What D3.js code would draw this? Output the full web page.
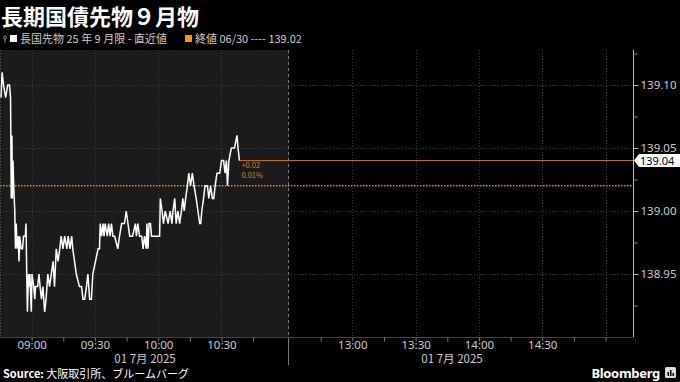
<!DOCTYPE html>
<html><head><meta charset="utf-8">
<script src="https://cdn.jsdelivr.net/npm/d3@7"></script>
<style>
body{margin:0;background:#000;}
svg{display:block;font-family:"Noto Sans CJK JP","Noto Sans",sans-serif;}
</style></head><body>
<svg id="c" width="680" height="382"></svg>
<script>
// ---- data ----
const times = ["08:45:30","08:46:00","08:46:40","08:47:40","08:48:40","08:49:30","08:50:00","08:50:20","08:50:40","08:50:50",
"08:51:10","08:51:30","08:52:00","08:52:20","08:52:40","08:53:10","08:53:40","08:54:00","08:54:20","08:55:00",
"08:55:40","08:56:10","08:57:00","08:57:20","08:57:40","08:58:00","08:58:30","08:58:50","08:59:10","08:59:50",
"09:00:10","09:01:00","09:01:30","09:01:50","09:02:50","09:03:30","09:04:00","09:04:40","09:05:20","09:06:10",
"09:06:50","09:07:40","09:08:30","09:09:20","09:10:10","09:10:50","09:11:40","09:12:30","09:13:20","09:14:00",
"09:14:50","09:15:40","09:16:40","09:17:20","09:18:10","09:19:00","09:19:30","09:20:20","09:21:10","09:22:40",
"09:23:40","09:24:20","09:25:10","09:26:00","09:26:40","09:27:30","09:28:20","09:29:00","09:31:30","09:32:10",
"09:32:30","09:33:10","09:33:50","09:34:20","09:34:50","09:35:50","09:36:30","09:37:10","09:37:50","09:38:30",
"09:39:20","09:40:50","09:41:40","09:42:40","09:44:00","09:44:50","09:45:40","09:46:30","09:47:50","09:49:10",
"09:49:40","09:50:20","09:51:10","09:52:10","09:52:50","09:53:30","09:54:20","09:54:40","09:55:10","09:55:40",
"09:56:20","09:56:50","10:00:40","10:01:00","10:01:50","10:02:30","10:03:20","10:04:40","10:05:40","10:06:30",
"10:07:00","10:07:50","10:08:30","10:09:20","10:10:10","10:11:00","10:11:40","10:12:20","10:13:00","10:13:50",
"10:14:30","10:15:20","10:16:10","10:17:00","10:18:00","10:18:50","10:19:40","10:20:10","10:20:40","10:21:30",
"10:22:10","10:23:20","10:24:00","10:24:50","10:25:40","10:26:20","10:27:00","10:27:50","10:29:10","10:30:00",
"10:31:00","10:31:40","10:32:20","10:32:50","10:33:30","10:34:40","10:36:10","10:37:20","10:37:50","10:38:30"];
const prices = [139.09,139.11,139.10,139.09,139.10,139.10,139.09,139.01,139.06,139.01,
139.04,139.02,139.00,138.97,138.99,138.97,138.98,138.96,138.98,138.97,
138.97,138.98,138.98,138.99,138.95,138.92,138.95,138.94,138.95,138.92,
138.95,138.94,138.93,138.94,138.94,138.95,138.94,138.93,138.94,138.92,
138.93,138.95,138.94,138.95,138.96,138.94,138.97,138.96,138.97,138.98,
138.97,138.98,138.97,138.98,138.97,138.98,138.97,138.96,138.95,138.94,
138.94,138.93,138.93,138.94,138.95,138.93,138.93,138.95,138.97,138.97,
138.99,138.98,138.99,138.98,138.99,138.98,138.99,138.98,138.99,138.98,
138.98,138.97,138.98,138.99,138.99,139.00,138.99,138.98,138.98,138.99,
138.98,138.99,138.98,138.98,138.97,138.98,138.97,138.99,138.97,138.99,
138.99,138.98,138.98,139.01,139.00,138.99,139.00,138.99,139.00,138.99,
139.00,139.01,138.99,139.00,138.99,139.00,139.01,139.00,139.01,139.02,
139.03,139.02,139.03,139.02,139.01,139.00,138.99,138.99,139.00,139.01,
139.02,139.02,139.01,139.02,139.01,139.01,139.02,139.03,139.03,139.04,
139.04,139.03,139.04,139.02,139.04,139.05,139.05,139.06,139.05,139.04];
const prevClose = 139.02;
const lastPrice = 139.04;
const changeText = "+0.02";
const changePct = "0.01%";
const yTicks = [138.95, 139.00, 139.05, 139.10];
const yMinorTicks = [138.925, 138.975, 139.025, 139.075, 139.125];
const xLabelTimes = ["09:00","09:30","10:00","10:30","13:00","13:30","14:00","14:30"];
const xGridTimes = ["09:00","09:30","10:00","10:30","13:00","13:30","14:00","14:30","15:00"];
const xTickTimes = ["09:00","09:15","09:30","09:45","10:00","10:15","10:30","10:45",
                    "12:45","13:00","13:15","13:30","13:45","14:00","14:15","14:30","14:45","15:00"];
const sessionBounds = ["08:45","11:02","12:30","15:13"];
const dateLabel = "01 7月 2025";
const title = "長期国債先物９月物";
const legendSeries = "長国先物 25 年 9 月限 - 直近値";
const legendClose = "終値 06/30 ---- 139.02";

// ---- setup ----
const svg = d3.select("#c");
const W = 680, H = 382;
const pTop = 50, pBot = 337, pLeft = 0, pRight = 633, sep = 289;
const pT = s => d3.timeParse(s.length > 5 ? "%H:%M:%S" : "%H:%M")(s);

const x = d3.scaleTime()
  .domain(sessionBounds.map(pT))
  .range([pLeft, sep, sep, pRight]);
const y = d3.scaleLinear().domain([138.90, 138.90 + (pBot - pTop) / 1260]).range([pBot, pTop]);

svg.append("rect").attr("width", W).attr("height", H).attr("fill", "#000");
svg.append("rect").attr("x", pLeft).attr("y", pTop).attr("width", sep - pLeft).attr("height", pBot - pTop).attr("fill", "#1b1b1b");

svg.append("line").attr("x1", 0.5).attr("x2", 0.5).attr("y1", pTop).attr("y2", pBot)
  .attr("stroke", "#555").attr("stroke-dasharray", "1,2");

const g = svg.append("g");
g.selectAll("line.vg").data(xGridTimes).join("line")
  .attr("x1", d => Math.round(x(pT(d))) + 0.5).attr("x2", d => Math.round(x(pT(d))) + 0.5)
  .attr("y1", pTop).attr("y2", pBot)
  .attr("stroke", "#3d3d3d").attr("stroke-dasharray", "1,2");
g.selectAll("line.hg").data(yTicks).join("line")
  .attr("x1", pLeft).attr("x2", pRight)
  .attr("y1", d => Math.round(y(d)) + 0.5).attr("y2", d => Math.round(y(d)) + 0.5)
  .attr("stroke", "#3d3d3d").attr("stroke-dasharray", "1,2");

svg.append("line").attr("x1", sep - 0.5).attr("x2", sep - 0.5).attr("y1", pTop).attr("y2", pBot)
  .attr("stroke", "#777").attr("stroke-dasharray", "3,3");
svg.append("line").attr("x1", sep - 0.5).attr("x2", sep - 0.5).attr("y1", pBot).attr("y2", 365)
  .attr("stroke", "#777");

svg.append("line").attr("x1", pLeft).attr("x2", pRight).attr("y1", pBot + 0.5).attr("y2", pBot + 0.5)
  .attr("stroke", "#444");

svg.append("line").attr("x1", pLeft).attr("x2", pRight)
  .attr("y1", y(prevClose)).attr("y2", y(prevClose))
  .attr("stroke", "#e08a1e").attr("stroke-width", 1.5).attr("stroke-dasharray", "1.5,1.5");

const data = times.map((t, i) => ({t: pT(t), v: prices[i]}));
const lastT = data[data.length - 1].t;
svg.append("line").attr("x1", x(lastT)).attr("x2", pRight)
  .attr("y1", y(lastPrice)).attr("y2", y(lastPrice))
  .attr("stroke", "#c67a32").attr("stroke-width", 1);

svg.append("path").datum(data)
  .attr("d", d3.line().x(d => x(d.t)).y(d => y(d.v)))
  .attr("fill", "none").attr("stroke", "#fff").attr("stroke-width", 1.5);

svg.append("text").attr("x", x(lastT) + 2).attr("y", y(lastPrice) + 7.5)
  .attr("fill", "#c98a3c").attr("font-size", 7.5).text(changeText);
svg.append("text").attr("x", x(lastT) + 2).attr("y", y(lastPrice) + 17.5)
  .attr("fill", "#c98a3c").attr("font-size", 7.5).text(changePct);

const yAxis = svg.append("g").attr("transform", `translate(${pRight + 0.5},0)`)
  .call(d3.axisRight(y).tickValues(yTicks).tickSize(5).tickPadding(2).tickFormat(d3.format(".2f")));
yAxis.select(".domain").attr("stroke", "#bbb").attr("d", `M0,${pTop}V${pBot}`);
yAxis.selectAll(".tick line").attr("stroke", "#bbb");
yAxis.selectAll(".tick text").attr("fill", "#ccc").attr("font-size", 11.5)
  .attr("font-family", "'Noto Sans','Open Sans',sans-serif");
const yMinor = svg.append("g").attr("transform", `translate(${pRight + 0.5},0)`)
  .call(d3.axisRight(y).tickValues(yMinorTicks).tickSize(4).tickFormat(""));
yMinor.select(".domain").remove();
yMinor.selectAll(".tick line").attr("stroke", "#888");

const ly = y(lastPrice);
svg.append("path")
  .attr("d", `M${pRight + 1},${ly} L${pRight + 6},${ly - 6.5} H680 V${ly + 6.5} H${pRight + 6} Z`)
  .attr("fill", "#fff");
svg.append("text").attr("x", pRight + 7).attr("y", ly + 4)
  .attr("fill", "#000").attr("font-size", 11)
  .attr("font-family", "'Noto Sans','Open Sans',sans-serif")
  .text(d3.format(".2f")(lastPrice));

const xAxis = svg.append("g").attr("transform", `translate(0,${pBot + 0.5})`)
  .call(d3.axisBottom(x).tickValues(xTickTimes.map(pT)).tickSize(4)
    .tickFormat(d => { const s = d3.timeFormat("%H:%M")(d); return xLabelTimes.includes(s) ? s : ""; }));
xAxis.select(".domain").remove();
xAxis.selectAll(".tick line").attr("stroke", "#777");
xAxis.selectAll(".tick text").attr("fill", "#ccc").attr("font-size", 11.5)
  .attr("font-family", "'Noto Sans','Open Sans',sans-serif")
  .attr("y", 0).attr("dy", 11);

svg.append("text").attr("x", 145).attr("y", 363).attr("text-anchor", "middle")
  .attr("fill", "#ccc").attr("font-size", 11.5).text(dateLabel);
svg.append("text").attr("x", 452).attr("y", 363).attr("text-anchor", "middle")
  .attr("fill", "#ccc").attr("font-size", 11.5).text(dateLabel);

svg.append("text").attr("x", 1).attr("y", 25).attr("fill", "#fff")
  .attr("font-size", 22).attr("font-weight", "bold").text(title);

svg.append("circle").attr("cx", 5).attr("cy", 37.5).attr("r", 1.5).attr("fill", "none").attr("stroke", "#aaa").attr("stroke-width", 0.8);
svg.append("line").attr("x1", 5).attr("x2", 5).attr("y1", 39).attr("y2", 43).attr("stroke", "#aaa").attr("stroke-width", 0.8);
svg.append("rect").attr("x", 10).attr("y", 35).attr("width", 7).attr("height", 7).attr("fill", "#fff");
svg.append("text").attr("x", 20).attr("y", 43).attr("fill", "#ccc").attr("font-size", 11).text(legendSeries);
svg.append("rect").attr("x", 185).attr("y", 35).attr("width", 7).attr("height", 7).attr("fill", "#f0961e");
svg.append("text").attr("x", 195).attr("y", 43).attr("fill", "#ccc").attr("font-size", 11).text(legendClose);

const src = svg.append("text").attr("x", 3).attr("y", 378).attr("fill", "#fff").attr("font-size", 11);
src.append("tspan").attr("font-weight", "bold").text("Source: ");
src.append("tspan").text("大阪取引所、ブルームバーグ");

svg.append("text").attr("x", 660).attr("y", 378).attr("text-anchor", "end").attr("fill", "#fff")
  .attr("font-size", 13).attr("font-weight", "bold").attr("font-family", "'Noto Sans','Open Sans',sans-serif")
  .attr("letter-spacing", -0.3).text("Bloomberg");
svg.append("rect").attr("x", 665).attr("y", 367).attr("width", 11).attr("height", 11).attr("rx", 1.5).attr("fill", "#ddd");
[[667.5,372,1.5,4],[670,370,1.5,6],[672.5,373,1.5,3]].forEach(b =>
  svg.append("rect").attr("x", b[0]).attr("y", b[1]).attr("width", b[2]).attr("height", b[3]).attr("fill", "#000"));
</script>
</body></html>
